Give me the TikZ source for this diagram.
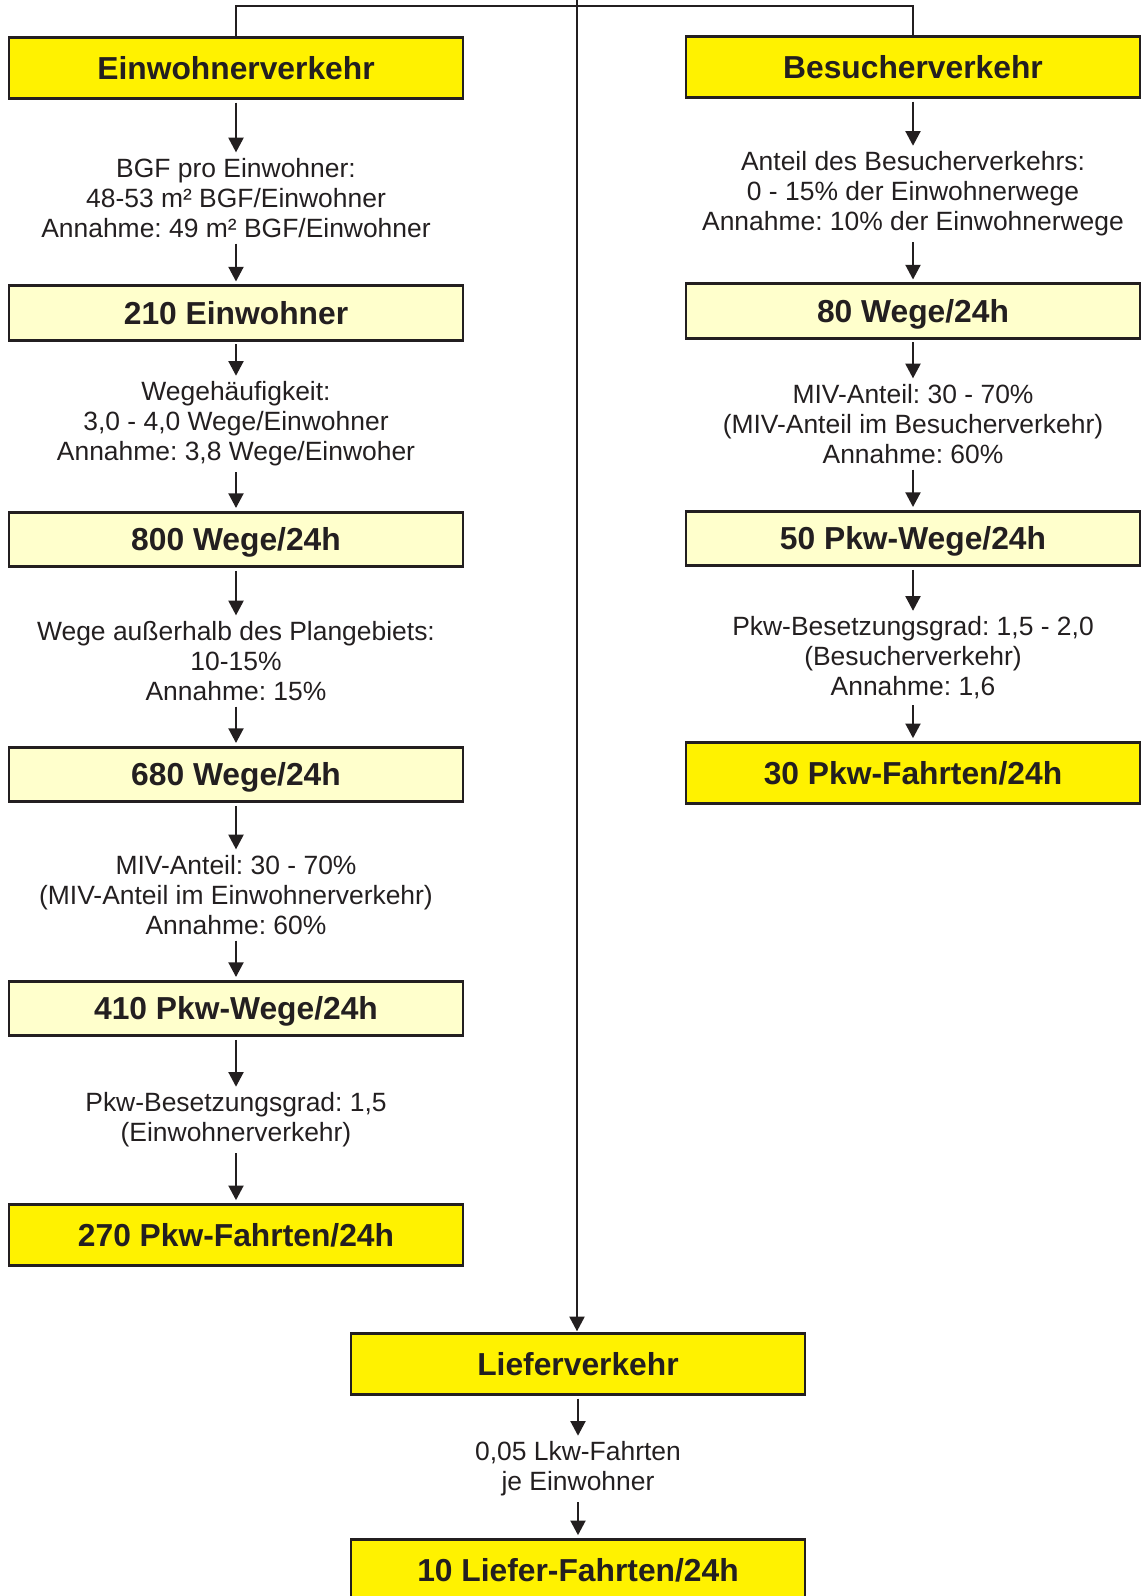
\documentclass[tikz,border=0pt]{standalone}
\usepackage{fontspec}
\setmainfont{Liberation Sans}
\frenchspacing
\usetikzlibrary{arrows.meta}
\definecolor{boxyellow}{RGB}{255,242,0}
\definecolor{paleyellow}{RGB}{255,255,204}
\definecolor{ink}{RGB}{35,31,32}

\begin{document}
\begin{tikzpicture}[x=0.025cm, y=-0.025cm,
    head/.style={draw=ink, line width=2pt, fill=boxyellow, rectangle, minimum width=11.35cm, minimum height=1.525cm, text height=0.57cm, text depth=0pt, text=ink, font=\fontsize{22.6}{26}\selectfont\bfseries},
    result/.style={head, fill=paleyellow, minimum height=1.36cm},
    info/.style={align=center, text=ink, inner sep=2pt, font=\fontsize{18.8}{21.3}\selectfont},
    flow/.style={draw=ink, line width=2pt, -{Triangle[length=10.5pt, width=10.5pt]}, shorten <=2pt, shorten >=2pt},
    link/.style={draw=ink, line width=2pt}]
    \useasboundingbox (0,0) rectangle (1142,1596);

        % Draw the two main branches
        \node[head] (einw) at (236, 68) {Einwohnerverkehr};
        \node[head] (besu) at (913, 67) {Besucherverkehr};

        % Draw the Einwohnerverkehr column
        \node[info] (einwinfo1) at (236, 198) {BGF pro Einwohner:\\48-53 m² BGF/Einwohner\\Annahme: 49 m² BGF/Einwohner};
        \node[result] (einwzahl) at (236, 313) {210 Einwohner};
        \node[info] (einwinfo2) at (236, 424) {Wegehäufigkeit:\\3,0 - 4,0 Wege/Einwohner\\Annahme: 3,8 Wege/Einwoher};
        \node[result] (einwwege) at (236, 539.5) {800 Wege/24h};
        \node[info] (einwinfo3) at (236, 661) {Wege außerhalb des Plangebiets:\\10-15\%\\Annahme: 15\%};
        \node[result] (einwintern) at (236, 774.5) {680 Wege/24h};
        \node[info] (einwinfo4) at (236, 895) {MIV-Anteil: 30 - 70\%\\(MIV-Anteil im Einwohnerverkehr)\\Annahme: 60\%};
        \node[result] (einwpkw) at (236, 1008.5) {410 Pkw-Wege/24h};
        \node[info] (einwinfo5) at (236, 1120) {Pkw-Besetzungsgrad: 1,5\\(Einwohnerverkehr)};
        \node[head] (einwfahrten) at (236, 1235) {270 Pkw-Fahrten/24h};

        % Draw the Besucherverkehr column
        \node[info] (besuinfo1) at (913, 194) {Anteil des Besucherverkehrs:\\0 - 15\% der Einwohnerwege\\Annahme: 10\% der Einwohnerwege};
        \node[result] (besuwege) at (913, 311) {80 Wege/24h};
        \node[info] (besuinfo2) at (913, 424) {MIV-Anteil: 30 - 70\%\\(MIV-Anteil im Besucherverkehr)\\Annahme: 60\%};
        \node[result] (besupkw) at (913, 538.5) {50 Pkw-Wege/24h};
        \node[info] (besuinfo3) at (913, 658) {Pkw-Besetzungsgrad: 1,5 - 2,0\\(Besucherverkehr)\\Annahme: 1,6};
        \node[head] (besufahrten) at (913, 773) {30 Pkw-Fahrten/24h};

        % Draw the Lieferverkehr column
        \node[head] (liefer) at (578, 1364) {Lieferverkehr};
        \node[info] (lieferinfo) at (578, 1469) {0,05 Lkw-Fahrten\\je Einwohner};
        \node[head] (lieferfahrten) at (578, 1570) {10 Liefer-Fahrten/24h};

        % Draw the lines at the top
        \coordinate (top) at (577, 0);
        \coordinate (bar) at (577, 6);
        \draw[link] (einw.north) |- (bar) -| (besu.north);
        \draw[flow, shorten <=0pt, shorten >=0.5pt] (top) -- (top |- liefer.north);

        % Draw the arrows
        \draw[flow] (einw) -- (einwinfo1);
        \draw[flow] (einwinfo1) -- (einwzahl);
        \draw[flow] (einwzahl) -- (einwinfo2);
        \draw[flow] (einwinfo2) -- (einwwege);
        \draw[flow] (einwwege) -- (einwinfo3);
        \draw[flow] (einwinfo3) -- (einwintern);
        \draw[flow] (einwintern) -- (einwinfo4);
        \draw[flow] (einwinfo4) -- (einwpkw);
        \draw[flow] (einwpkw) -- (einwinfo5);
        \draw[flow] (einwinfo5) -- (einwfahrten);

        \draw[flow] (besu) -- (besuinfo1);
        \draw[flow] (besuinfo1) -- (besuwege);
        \draw[flow] (besuwege) -- (besuinfo2);
        \draw[flow] (besuinfo2) -- (besupkw);
        \draw[flow] (besupkw) -- (besuinfo3);
        \draw[flow] (besuinfo3) -- (besufahrten);

        \draw[flow] (liefer) -- (lieferinfo);
        \draw[flow] (lieferinfo) -- (lieferfahrten);

    \end{tikzpicture}
\end{document}
